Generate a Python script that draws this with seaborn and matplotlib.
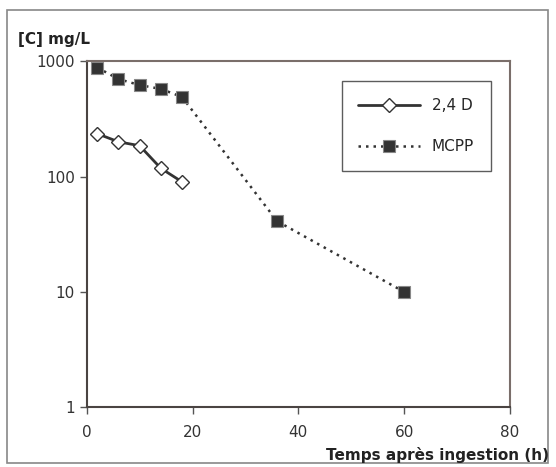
import matplotlib
matplotlib.use("Agg")
import matplotlib.pyplot as plt
import seaborn as sns
import pandas as pd
from matplotlib.patches import Rectangle

time_24d = [2, 6, 10, 14, 18]
conc_24d = [235, 200, 185, 118, 90]
time_mcpp = [2, 6, 10, 14, 18, 36, 60]
conc_mcpp = [880, 700, 620, 575, 490, 41, 10]
x_ticks = [0, 20, 40, 60, 80]
y_ticks = [1, 10, 100, 1000]

sns.set_theme(style="white")
plt.rcParams['font.family'] = ['DejaVu Sans']

df = pd.concat([
    pd.DataFrame({"t": time_24d, "c": conc_24d, "s": "2,4 D"}),
    pd.DataFrame({"t": time_mcpp, "c": conc_mcpp, "s": "MCPP"}),
])

fig = plt.figure(figsize=(5.56, 4.67), dpi=100)
fig.patches.append(Rectangle((0.013, 0.008), 0.972, 0.97, transform=fig.transFigure,
                             fill=False, edgecolor="#888888", linewidth=1.2))
ax = fig.add_axes([0.156, 0.128, 0.761, 0.741])

dark = "#333333"
sns.lineplot(data=df[df.s == "2,4 D"], x="t", y="c", ax=ax, color=dark, linewidth=2,
             linestyle="-", marker="D", markersize=7, markerfacecolor="white",
             markeredgecolor=dark, markeredgewidth=1, label="2,4 D")
sns.lineplot(data=df[df.s == "MCPP"], x="t", y="c", ax=ax, color=dark, linewidth=1.8,
             linestyle=(0, (1, 2)), marker="s", markersize=9, markerfacecolor=dark,
             markeredgecolor="#888888", markeredgewidth=0.8, label="MCPP")

ax.set_yscale("log")
ax.set_xlim(0, 80)
ax.set_ylim(1, 1000)
ax.set_xticks(x_ticks)
ax.set_yticks(y_ticks)
ax.set_yticklabels([str(v) for v in y_ticks])
ax.minorticks_off()
ax.tick_params(axis="both", direction="out", length=5, width=1, color="#555555",
               labelsize=11, labelcolor="#333333", left=True, bottom=True)
ax.tick_params(axis="x", pad=8)
for side in ["top", "right"]:
    ax.spines[side].set_color("#7a6e6a")
    ax.spines[side].set_linewidth(1.5)
for side in ["left", "bottom"]:
    ax.spines[side].set_color("#4a4442")
    ax.spines[side].set_linewidth(1.5)

ax.set_xlabel("")
ax.set_ylabel("")
fig.text(0.032, 0.905, "[C] mg/L", fontsize=11, fontweight="bold", color="#222222")
fig.text(0.988, 0.016, "Temps après ingestion (h)", fontsize=11, fontweight="bold",
         color="#222222", ha="right")

leg = ax.legend(loc="upper right", bbox_to_anchor=(0.955, 0.942), frameon=True,
                fancybox=False, edgecolor="#333333", fontsize=11, handlelength=4,
                labelspacing=1.7, borderpad=1.1, borderaxespad=0)
leg.get_frame().set_linewidth(1)

fig.savefig("out.png", dpi=100)
